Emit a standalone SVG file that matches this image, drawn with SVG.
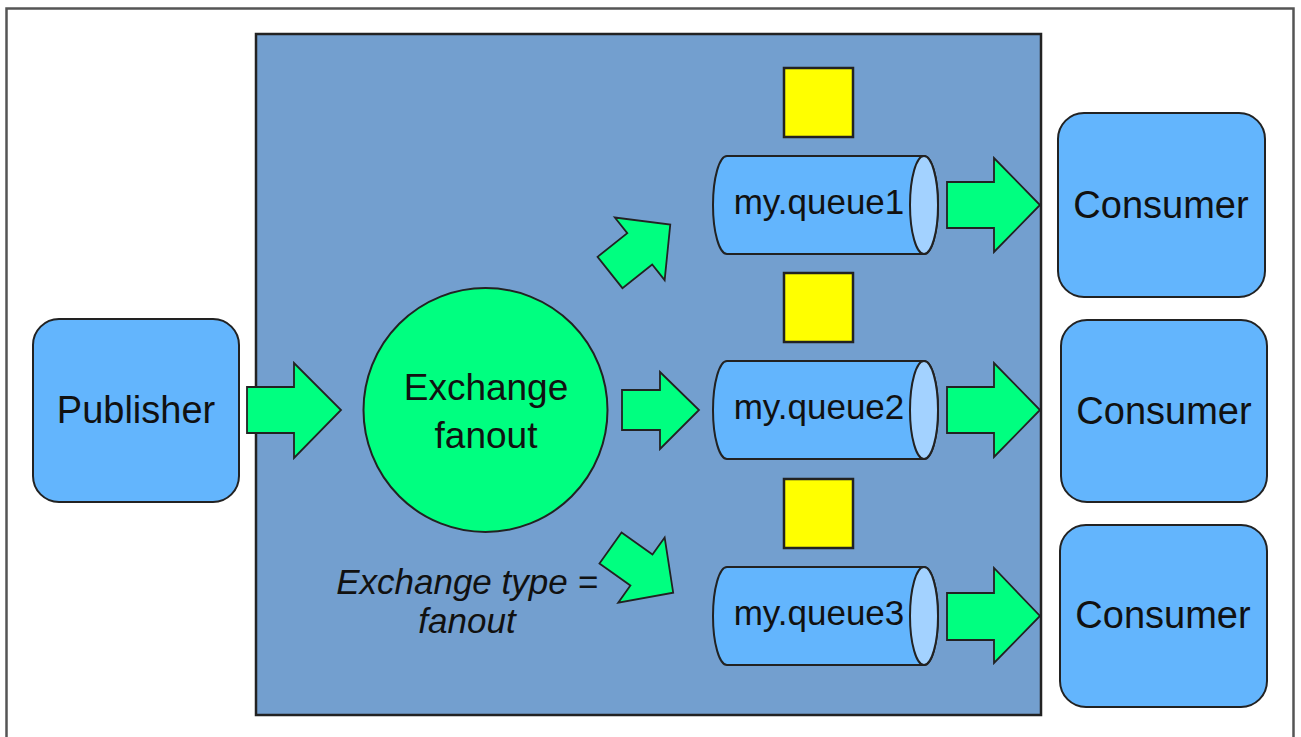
<svg xmlns="http://www.w3.org/2000/svg" width="1301" height="737" viewBox="0 0 1301 737">
<style>
.lbl{font-family:"Liberation Sans",Arial,sans-serif;fill:#111;text-anchor:middle}
.node{fill:#63B5FD;stroke:#222;stroke-width:2}
.arrow{fill:#00FF80;stroke:#222;stroke-width:1.8;stroke-linejoin:miter}
.cap{fill:#A3D2FF;stroke:#222;stroke-width:2}
.msg{fill:#FFFF00;stroke:#222;stroke-width:2.5}
</style>
<rect x="0" y="0" width="1301" height="737" fill="#fff"/>
<rect x="6.5" y="8.5" width="1287" height="745" fill="#fff" stroke="#555" stroke-width="2.5"/>
<g id="broker">
<rect x="256" y="34" width="785" height="681" fill="#739FCF" stroke="#222" stroke-width="2.5"/>
</g>
<g id="publisher">
<rect class="node" x="33" y="319" width="206" height="183" rx="26"/>
<text class="lbl" x="136" y="423" font-size="38">Publisher</text>
</g>
<g id="exchange">
<circle cx="485.5" cy="410" r="122" fill="#00FF80" stroke="#222" stroke-width="2"/>
<text class="lbl" x="486" y="400" font-size="37">Exchange</text>
<text class="lbl" x="486" y="448" font-size="37">fanout</text>
</g>
<g id="exchange-type-label">
<text class="lbl" x="467" y="594" font-size="35" font-style="italic">Exchange type =</text>
<text class="lbl" x="467" y="633" font-size="35" font-style="italic">fanout</text>
</g>
<g id="queue1">
<path class="node" d="M727,156 H924 A14,49 0 0 1 924,254 H727 A14,49 0 0 1 727,156 Z"/>
<ellipse class="cap" cx="924" cy="205" rx="14" ry="49"/>
<text class="lbl" x="819" y="214" font-size="35">my.queue1</text>
</g>
<g id="queue2">
<path class="node" d="M727,361 H924 A14,49 0 0 1 924,459 H727 A14,49 0 0 1 727,361 Z"/>
<ellipse class="cap" cx="924" cy="410" rx="14" ry="49"/>
<text class="lbl" x="819" y="419" font-size="35">my.queue2</text>
</g>
<g id="queue3">
<path class="node" d="M727,567 H924 A14,49 0 0 1 924,665 H727 A14,49 0 0 1 727,567 Z"/>
<ellipse class="cap" cx="924" cy="616" rx="14" ry="49"/>
<text class="lbl" x="819" y="625" font-size="35">my.queue3</text>
</g>
<g id="messages">
<rect class="msg" x="784" y="68" width="69" height="69"/>
<rect class="msg" x="784" y="273" width="69" height="69"/>
<rect class="msg" x="784" y="479" width="69" height="69"/>
</g>
<g id="consumer1">
<rect class="node" x="1058" y="113" width="207" height="184" rx="26"/>
<text class="lbl" x="1161" y="218" font-size="38">Consumer</text>
</g>
<g id="consumer2">
<rect class="node" x="1061" y="320" width="206" height="182" rx="26"/>
<text class="lbl" x="1164" y="424" font-size="38">Consumer</text>
</g>
<g id="consumer3">
<rect class="node" x="1060" y="525" width="207" height="182" rx="26"/>
<text class="lbl" x="1163" y="628" font-size="38">Consumer</text>
</g>
<g id="connectors">
<polygon class="arrow" points="247,387 294,387 294,363 341,410 294,458 294,433 247,433"/>
<polygon class="arrow" points="622,390 660,390 660,372 699,410 660,449 660,430 622,430"/>
<polygon class="arrow" transform="translate(610,272.5) rotate(-38.5)" points="0,-20 38,-20 38,-40 77,0 38,40 38,20 0,20"/>
<polygon class="arrow" transform="translate(610.5,548) rotate(35.5)" points="0,-19 38,-19 38,-40 77,0 38,40 38,19 0,19"/>
<polygon class="arrow" points="947,182 994,182 994,158 1040,205 994,252 994,228 947,228"/>
<polygon class="arrow" points="947,387 994,387 994,363 1040,410 994,457 994,433 947,433"/>
<polygon class="arrow" points="947,593 994,593 994,568 1040,616 994,663 994,640 947,640"/>
</g>
</svg>
